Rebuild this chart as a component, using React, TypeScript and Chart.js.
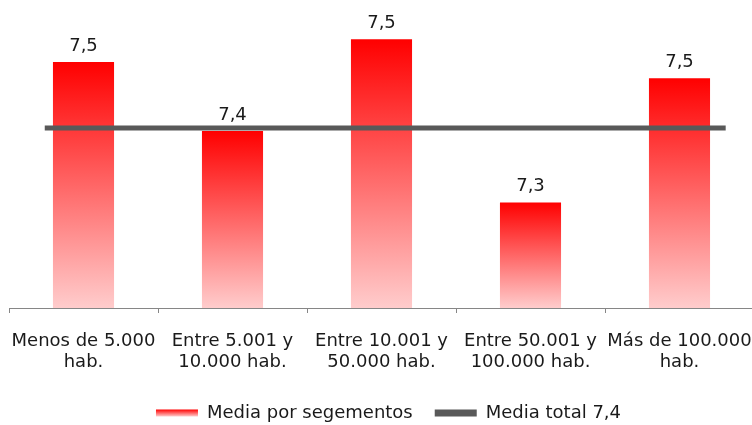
import React, { useEffect, useRef } from 'react';
import { Chart, registerables } from 'chart.js';

Chart.register(...registerables);

// ---- data ----
const categories: string[][] = [
  ['Menos de 5.000', 'hab.'],
  ['Entre 5.001 y', '10.000 hab.'],
  ['Entre 10.001 y', '50.000 hab.'],
  ['Entre 50.001 y', '100.000 hab.'],
  ['Más de 100.000', 'hab.'],
];
const segmentValues = [7.51, 7.395, 7.548, 7.276, 7.483];
const totalMean = 7.4;
// extent of the total-mean line, in category units along the x axis
const meanLineSpan = [0.24, 4.81];
const seriesNames = ['Media por segementos', 'Media total 7,4'];
const yMin = 7.1;
const yMax = 7.6;

const FONT = 'DejaVu Sans';
const TEXT = '#1a1a1a';
const RED_TOP = '#FF0000';
const RED_BOTTOM = '#FFCCCC';
const LINE_COLOR = '#595959';
const LEGEND_PAD = 22;
const LEGEND_BOX_H = 7;
const LEGEND_SHIFT = 7;

const fmt = (v: number) => v.toFixed(1).replace('.', ',');

export default function App() {
  const ref = useRef<HTMLCanvasElement | null>(null);

  useEffect(() => {
    document.body.style.margin = '0';
    const canvas = ref.current;
    if (!canvas) return;

    const labelPlugin = {
      id: 'barLabels',
      afterLayout(chart: any) {
        const lg = chart.legend;
        if (lg) {
          lg.left += LEGEND_SHIFT;
          lg.right += LEGEND_SHIFT;
        }
      },
      beforeDraw(chart: any) {
        const lg = chart.legend;
        if (lg && lg.legendItems && lg.legendItems.length) {
          const y0 = lg.top + LEGEND_PAD + (18 - LEGEND_BOX_H) / 2;
          const g = chart.ctx.createLinearGradient(0, y0, 0, y0 + LEGEND_BOX_H);
          g.addColorStop(0, RED_TOP);
          g.addColorStop(1, RED_BOTTOM);
          lg.legendItems[0].fillStyle = g;
        }
      },
      afterDraw(chart: any) {
        const ctx = chart.ctx;
        const meta = chart.getDatasetMeta(0);
        ctx.save();
        ctx.font = `18px "${FONT}"`;
        ctx.fillStyle = TEXT;
        ctx.textAlign = 'center';
        ctx.textBaseline = 'alphabetic';
        meta.data.forEach((el: any, i: number) => {
          ctx.fillText(fmt(segmentValues[i]), el.x, el.y - 11);
        });
        ctx.restore();
      },
    };

    const chart = new Chart(canvas, {
      type: 'bar',
      data: {
        labels: categories,
        datasets: [
          {
            type: 'bar',
            label: seriesNames[0],
            data: segmentValues,
            order: 1,
            xAxisID: 'x',
            grouped: false,
            barPercentage: 0.41,
            categoryPercentage: 1,
            borderWidth: 0,
            backgroundColor: (c: any) => {
              if (c.type !== 'data' || !c.chart.chartArea) return RED_TOP;
              const ys = c.chart.scales.y;
              const top = ys.getPixelForValue(c.raw);
              const bottom = ys.getPixelForValue(yMin);
              const g = c.chart.ctx.createLinearGradient(0, top, 0, bottom);
              g.addColorStop(0, RED_TOP);
              g.addColorStop(1, RED_BOTTOM);
              return g;
            },
          } as any,
          {
            type: 'line',
            label: seriesNames[1],
            data: meanLineSpan.map((x) => ({ x, y: totalMean })),
            order: 0,
            xAxisID: 'x2',
            borderColor: LINE_COLOR,
            borderWidth: 5,
            borderCapStyle: 'butt',
            pointRadius: 0,
            fill: false,
          } as any,
        ],
      },
      options: {
        animation: false,
        responsive: false,
        events: [],
        layout: { padding: { left: 9, right: 2, top: 8, bottom: 0 } },
        plugins: {
          tooltip: { enabled: false },
          legend: {
            position: 'bottom',
            labels: {
              boxWidth: 42,
              boxHeight: LEGEND_BOX_H,
              padding: LEGEND_PAD,
              color: TEXT,
              font: { family: FONT, size: 18 },
              generateLabels: () => [
                { text: seriesNames[0], fillStyle: RED_TOP, strokeStyle: 'transparent', lineWidth: 0, datasetIndex: 0, hidden: false, fontColor: TEXT },
                { text: seriesNames[1], fillStyle: LINE_COLOR, strokeStyle: 'transparent', lineWidth: 0, datasetIndex: 1, hidden: false, fontColor: TEXT },
              ],
            },
          },
        },
        scales: {
          x: {
            type: 'category',
            offset: true,
            grid: { offset: true, drawOnChartArea: false, drawTicks: true, tickLength: 5, color: '#868686' },
            border: { display: true, color: '#868686', width: 1 },
            ticks: {
              color: TEXT,
              font: { family: FONT, size: 18, lineHeight: 1.17 },
              padding: 18,
              maxRotation: 0,
              autoSkip: false,
            },
            afterFit: (s: any) => {
              s.height = 74;
              s.paddingLeft = 0;
              s.paddingRight = 0;
            },
          },
          x2: { type: 'linear', display: false, offset: false, min: 0, max: 5 },
          y: { display: false, min: yMin, max: yMax },
        },
      } as any,
      plugins: [labelPlugin],
    });

    return () => chart.destroy();
  }, []);

  return (
    <div style={{ width: 752, height: 425, overflow: 'hidden', position: 'relative' }}>
      <canvas ref={ref} width={756} height={432} style={{ width: 756, height: 432, display: 'block' }} />
    </div>
  );
}
